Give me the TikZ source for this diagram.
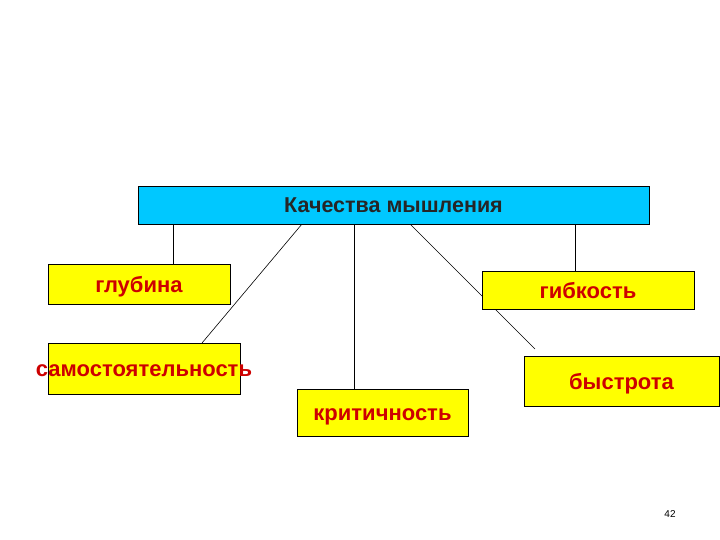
\documentclass[tikz,border=0pt]{standalone}
\usepackage{fontspec}
\setmainfont{Liberation Sans}
\usetikzlibrary{backgrounds}
\definecolor{topcyan}{RGB}{0,200,255}
\definecolor{boxyellow}{RGB}{255,255,0}
\definecolor{txtred}{RGB}{205,0,0}
\begin{document}
\begin{tikzpicture}[x=1pt,y=-1pt,
  headbox/.style={draw=black,line width=0.8pt,fill=topcyan,inner sep=0pt,
    text height=16pt,text depth=0pt,
    minimum width=511pt,minimum height=38pt,font=\fontsize{21.5}{24}\selectfont\bfseries,text=black!85},
  itembox/.style={draw=black,line width=0.8pt,fill=boxyellow,inner sep=0pt,
    text height=16.5pt,text depth=0pt,
    font=\fontsize{22}{24}\selectfont\bfseries,text=txtred},
  link/.style={draw=black,line width=0.6pt}]
\useasboundingbox (0,0) rectangle (720,540);
\node[headbox] (top) at (393.5,205) {Качества мышления};
\node[itembox,minimum width=182pt,minimum height=40pt] (glub) at (139,284) {глубина};
\node[itembox,minimum width=192pt,minimum height=51pt] (samo) at (144,368.5) {\makebox[0pt][c]{самостоятельность}};
\node[itembox,minimum width=212pt,minimum height=38pt] (gib) at (588,290) {гибкость};
\node[itembox,minimum width=195pt,minimum height=50pt] (bystr) at (621.5,381) {быстрота};
\node[itembox,minimum width=171pt,minimum height=47pt] (krit) at (382.5,412.5) {критичность};
\coordinate (d1s) at (302,224);
\coordinate (d1e) at (202,343);
\coordinate (d2s) at (410,224);
\coordinate (d2e) at (535,349);
\begin{scope}[on background layer]
\fill[white] (0,0) rectangle (720,540);
\draw[link] (top.south -| glub.north) ++(34,0) coordinate (v1) -- (v1 |- glub.north);
\draw[link] (d1s) -- (d1e);
\draw[link] (top.south -| krit.north) ++(-28.5,0) coordinate (v2) -- (v2 |- krit.north);
\draw[link] (d2s) -- (d2e);
\draw[link] (top.south -| gib.north) ++(-13,0) coordinate (v3) -- (v3 |- gib.north);
\end{scope}
\node[font=\fontsize{10}{12}\selectfont] (pg) at (670,514) {42};
\end{tikzpicture}
\end{document}
